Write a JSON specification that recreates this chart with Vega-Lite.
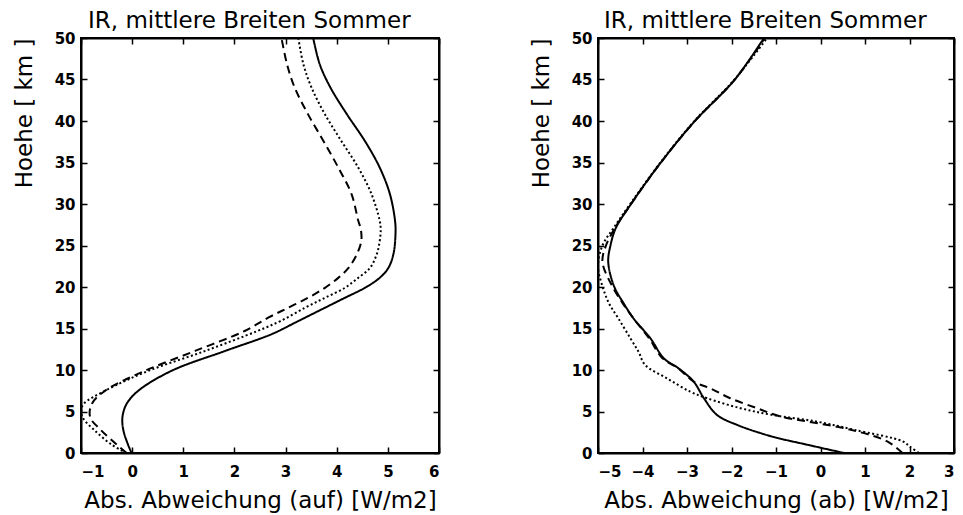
{
  "$schema": "https://vega.github.io/schema/vega-lite/v6.json",
  "padding": {"left": 12, "top": 9, "right": 0, "bottom": 0},
  "spacing": 88,
  "background": "white",
  "config": {
    "view": {"stroke": "black", "strokeWidth": 2},
    "axis": {
      "grid": false,
      "domainColor": "black",
      "domainWidth": 2,
      "tickColor": "black",
      "tickWidth": 1.5,
      "tickSize": -6,
      "labelFont": "DejaVu Sans",
      "labelFontWeight": "bold",
      "labelFontSize": 15,
      "labelColor": "black",
      "titleFont": "DejaVu Sans",
      "titleFontWeight": "normal",
      "titleFontSize": 23,
      "titleColor": "black"
    },
    "title": {"font": "DejaVu Sans", "fontSize": 23, "fontWeight": "normal", "color": "black", "anchor": "start", "frame": "group"}
  },
  "datasets": {
    "auf": [
      {"s": "solid", "h": 0, "v": -0.01}, {"s": "solid", "h": 1, "v": -0.08}, {"s": "solid", "h": 2.7, "v": -0.17}, {"s": "solid", "h": 4.3, "v": -0.19}, {"s": "solid", "h": 5.9, "v": -0.11}, {"s": "solid", "h": 7.5, "v": 0.12}, {"s": "solid", "h": 9.9, "v": 0.77}, {"s": "solid", "h": 12.3, "v": 1.82}, {"s": "solid", "h": 14.3, "v": 2.72}, {"s": "solid", "h": 15.9, "v": 3.25}, {"s": "solid", "h": 17.5, "v": 3.77}, {"s": "solid", "h": 18.7, "v": 4.16}, {"s": "solid", "h": 19.9, "v": 4.55}, {"s": "solid", "h": 21.1, "v": 4.84}, {"s": "solid", "h": 22.3, "v": 5.01}, {"s": "solid", "h": 24, "v": 5.11}, {"s": "solid", "h": 26.5, "v": 5.15}, {"s": "solid", "h": 28, "v": 5.14}, {"s": "solid", "h": 31.2, "v": 5.04}, {"s": "solid", "h": 34.4, "v": 4.84}, {"s": "solid", "h": 37.6, "v": 4.55}, {"s": "solid", "h": 40.8, "v": 4.2}, {"s": "solid", "h": 44, "v": 3.88}, {"s": "solid", "h": 46.8, "v": 3.67}, {"s": "solid", "h": 50, "v": 3.54},
      {"s": "dotted", "h": 0, "v": -0.11}, {"s": "dotted", "h": 1, "v": -0.4}, {"s": "dotted", "h": 2.7, "v": -0.73}, {"s": "dotted", "h": 4.3, "v": -0.97}, {"s": "dotted", "h": 5.2, "v": -0.99}, {"s": "dotted", "h": 5.9, "v": -0.95}, {"s": "dotted", "h": 7.5, "v": -0.53}, {"s": "dotted", "h": 9.9, "v": 0.32}, {"s": "dotted", "h": 12.3, "v": 1.43}, {"s": "dotted", "h": 14.7, "v": 2.45}, {"s": "dotted", "h": 15.9, "v": 2.9}, {"s": "dotted", "h": 17.5, "v": 3.38}, {"s": "dotted", "h": 18.7, "v": 3.77}, {"s": "dotted", "h": 19.9, "v": 4.16}, {"s": "dotted", "h": 21.1, "v": 4.42}, {"s": "dotted", "h": 22.3, "v": 4.65}, {"s": "dotted", "h": 23.9, "v": 4.78}, {"s": "dotted", "h": 25.5, "v": 4.84}, {"s": "dotted", "h": 27, "v": 4.86}, {"s": "dotted", "h": 28, "v": 4.84}, {"s": "dotted", "h": 31.2, "v": 4.68}, {"s": "dotted", "h": 34.4, "v": 4.42}, {"s": "dotted", "h": 37.6, "v": 4.09}, {"s": "dotted", "h": 40.8, "v": 3.77}, {"s": "dotted", "h": 44, "v": 3.51}, {"s": "dotted", "h": 46.8, "v": 3.35}, {"s": "dotted", "h": 50, "v": 3.25},
      {"s": "dashed", "h": 0, "v": -0.11}, {"s": "dashed", "h": 1, "v": -0.3}, {"s": "dashed", "h": 2.7, "v": -0.6}, {"s": "dashed", "h": 4.3, "v": -0.82}, {"s": "dashed", "h": 5.9, "v": -0.79}, {"s": "dashed", "h": 7.5, "v": -0.53}, {"s": "dashed", "h": 9.9, "v": 0.25}, {"s": "dashed", "h": 12.3, "v": 1.23}, {"s": "dashed", "h": 14.7, "v": 2.2}, {"s": "dashed", "h": 16.3, "v": 2.66}, {"s": "dashed", "h": 17.5, "v": 3.05}, {"s": "dashed", "h": 18.7, "v": 3.44}, {"s": "dashed", "h": 19.9, "v": 3.77}, {"s": "dashed", "h": 21.1, "v": 4.03}, {"s": "dashed", "h": 22.3, "v": 4.23}, {"s": "dashed", "h": 23.9, "v": 4.39}, {"s": "dashed", "h": 25.5, "v": 4.48}, {"s": "dashed", "h": 27, "v": 4.47}, {"s": "dashed", "h": 28, "v": 4.42}, {"s": "dashed", "h": 31.2, "v": 4.29}, {"s": "dashed", "h": 34.4, "v": 4.03}, {"s": "dashed", "h": 37.6, "v": 3.74}, {"s": "dashed", "h": 40.8, "v": 3.44}, {"s": "dashed", "h": 44, "v": 3.18}, {"s": "dashed", "h": 46.8, "v": 3.03}, {"s": "dashed", "h": 50, "v": 2.92}
    ],
    "ab": [
      {"s": "solid", "h": 0, "v": 0.53}, {"s": "solid", "h": 1, "v": -0.3}, {"s": "solid", "h": 2, "v": -1.1}, {"s": "solid", "h": 3.4, "v": -1.88}, {"s": "solid", "h": 4.6, "v": -2.33}, {"s": "solid", "h": 6.6, "v": -2.62}, {"s": "solid", "h": 8.6, "v": -2.85}, {"s": "solid", "h": 10.2, "v": -3.19}, {"s": "solid", "h": 11.4, "v": -3.52}, {"s": "solid", "h": 13.8, "v": -3.82}, {"s": "solid", "h": 16.2, "v": -4.2}, {"s": "solid", "h": 18, "v": -4.42}, {"s": "solid", "h": 20.1, "v": -4.64}, {"s": "solid", "h": 23, "v": -4.77}, {"s": "solid", "h": 25, "v": -4.72}, {"s": "solid", "h": 27.1, "v": -4.6}, {"s": "solid", "h": 29.9, "v": -4.27}, {"s": "solid", "h": 34.7, "v": -3.63}, {"s": "solid", "h": 39.9, "v": -2.84}, {"s": "solid", "h": 44.9, "v": -1.94}, {"s": "solid", "h": 50, "v": -1.27},
      {"s": "dashed", "h": 0, "v": 1.84}, {"s": "dashed", "h": 1.4, "v": 1.5}, {"s": "dashed", "h": 2.8, "v": 0.68}, {"s": "dashed", "h": 3.8, "v": -0.3}, {"s": "dashed", "h": 4.4, "v": -0.9}, {"s": "dashed", "h": 5.4, "v": -1.43}, {"s": "dashed", "h": 6.6, "v": -2.03}, {"s": "dashed", "h": 7.8, "v": -2.48}, {"s": "dashed", "h": 8.6, "v": -2.85}, {"s": "dashed", "h": 10.2, "v": -3.2}, {"s": "dashed", "h": 11.4, "v": -3.55}, {"s": "dashed", "h": 13.8, "v": -3.85}, {"s": "dashed", "h": 16.2, "v": -4.2}, {"s": "dashed", "h": 18, "v": -4.44}, {"s": "dashed", "h": 20.1, "v": -4.68}, {"s": "dashed", "h": 23, "v": -4.9}, {"s": "dashed", "h": 25, "v": -4.82}, {"s": "dashed", "h": 27.1, "v": -4.62}, {"s": "dashed", "h": 29.9, "v": -4.27}, {"s": "dashed", "h": 34.7, "v": -3.63}, {"s": "dashed", "h": 39.9, "v": -2.84}, {"s": "dashed", "h": 44.9, "v": -1.94}, {"s": "dashed", "h": 50, "v": -1.25},
      {"s": "dotted", "h": 0, "v": 2.21}, {"s": "dotted", "h": 0.8, "v": 2.0}, {"s": "dotted", "h": 1.4, "v": 1.85}, {"s": "dotted", "h": 2.8, "v": 0.75}, {"s": "dotted", "h": 3.8, "v": -0.1}, {"s": "dotted", "h": 4.6, "v": -1.1}, {"s": "dotted", "h": 5.4, "v": -1.8}, {"s": "dotted", "h": 6.6, "v": -2.55}, {"s": "dotted", "h": 7.4, "v": -2.93}, {"s": "dotted", "h": 9, "v": -3.45}, {"s": "dotted", "h": 10.6, "v": -3.94}, {"s": "dotted", "h": 12.2, "v": -4.09}, {"s": "dotted", "h": 13.8, "v": -4.27}, {"s": "dotted", "h": 16.2, "v": -4.54}, {"s": "dotted", "h": 18, "v": -4.75}, {"s": "dotted", "h": 20.1, "v": -4.9}, {"s": "dotted", "h": 22.5, "v": -5.0}, {"s": "dotted", "h": 25, "v": -4.9}, {"s": "dotted", "h": 27.1, "v": -4.65}, {"s": "dotted", "h": 29.9, "v": -4.29}, {"s": "dotted", "h": 34.7, "v": -3.64}, {"s": "dotted", "h": 39.9, "v": -2.85}, {"s": "dotted", "h": 44.9, "v": -1.95}, {"s": "dotted", "h": 50, "v": -1.2}
    ]
  },
  "hconcat": [
    {
      "width": 358,
      "height": 415,
      "title": {"text": "IR, mittlere Breiten Sommer", "dx": 7, "offset": -2},
      "data": {"name": "auf"},
      "layer": [
        {
          "mark": {"type": "line", "color": "black", "clip": true, "interpolate": "catmull-rom"},
          "encoding": {
            "x": {"field": "v", "type": "quantitative", "scale": {"domain": [-1, 6], "nice": false, "zero": false}, "axis": {"orient": "bottom", "values": [-1, 0, 1, 2, 3, 4, 5, 6], "title": "Abs. Abweichung (auf) [W/m2]", "titlePadding": 10, "labelPadding": 17}},
            "y": {"field": "h", "type": "quantitative", "scale": {"domain": [0, 50], "nice": false, "zero": false}, "axis": {"orient": "left", "values": [0, 5, 10, 15, 20, 25, 30, 35, 40, 45, 50], "title": "Hoehe [ km ]", "titleAnchor": "end", "titlePadding": 18, "labelPadding": 12}},
            "detail": {"field": "s"},
            "order": {"field": "h", "type": "quantitative"},
            "strokeDash": {"field": "s", "type": "nominal", "scale": {"domain": ["solid", "dashed", "dotted"], "range": [[1, 0], [8, 5], [2, 2.5]]}, "legend": null},
            "strokeWidth": {"field": "s", "type": "nominal", "scale": {"domain": ["solid", "dashed", "dotted"], "range": [2, 2, 1.5]}, "legend": null}
          }
        },
        {
          "mark": {"type": "line", "opacity": 0},
          "encoding": {
            "x": {"field": "v", "type": "quantitative", "axis": {"orient": "top", "values": [-1, 0, 1, 2, 3, 4, 5, 6], "labels": false, "title": null}},
            "y": {"field": "h", "type": "quantitative", "axis": {"orient": "right", "values": [0, 5, 10, 15, 20, 25, 30, 35, 40, 45, 50], "labels": false, "title": null}},
            "detail": {"field": "s"}
          }
        }
      ],
      "resolve": {"axis": {"x": "independent", "y": "independent"}}
    },
    {
      "width": 356,
      "height": 415,
      "title": {"text": "IR, mittlere Breiten Sommer", "dx": 6, "offset": -2},
      "data": {"name": "ab"},
      "layer": [
        {
          "mark": {"type": "line", "color": "black", "clip": true, "interpolate": "catmull-rom"},
          "encoding": {
            "x": {"field": "v", "type": "quantitative", "scale": {"domain": [-5, 3], "nice": false, "zero": false}, "axis": {"orient": "bottom", "values": [-5, -4, -3, -2, -1, 0, 1, 2, 3], "title": "Abs. Abweichung (ab) [W/m2]", "titlePadding": 10, "labelPadding": 17}},
            "y": {"field": "h", "type": "quantitative", "scale": {"domain": [0, 50], "nice": false, "zero": false}, "axis": {"orient": "left", "values": [0, 5, 10, 15, 20, 25, 30, 35, 40, 45, 50], "title": "Hoehe [ km ]", "titleAnchor": "end", "titlePadding": 18, "labelPadding": 12}},
            "detail": {"field": "s"},
            "order": {"field": "h", "type": "quantitative"},
            "strokeDash": {"field": "s", "type": "nominal", "scale": {"domain": ["solid", "dashed", "dotted"], "range": [[1, 0], [8, 5], [2, 2.5]]}, "legend": null},
            "strokeWidth": {"field": "s", "type": "nominal", "scale": {"domain": ["solid", "dashed", "dotted"], "range": [2, 2, 1.5]}, "legend": null}
          }
        },
        {
          "mark": {"type": "line", "opacity": 0},
          "encoding": {
            "x": {"field": "v", "type": "quantitative", "axis": {"orient": "top", "values": [-5, -4, -3, -2, -1, 0, 1, 2, 3], "labels": false, "title": null}},
            "y": {"field": "h", "type": "quantitative", "axis": {"orient": "right", "values": [0, 5, 10, 15, 20, 25, 30, 35, 40, 45, 50], "labels": false, "title": null}},
            "detail": {"field": "s"}
          }
        }
      ],
      "resolve": {"axis": {"x": "independent", "y": "independent"}}
    }
  ]
}
